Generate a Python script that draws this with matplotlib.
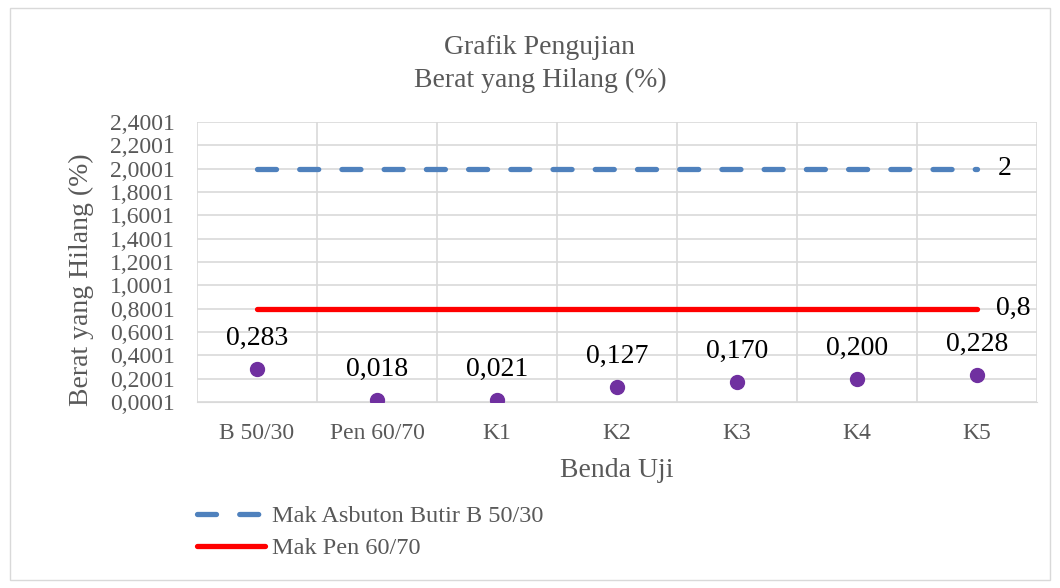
import matplotlib
matplotlib.use('Agg')
import matplotlib.pyplot as plt
from matplotlib.patches import Rectangle

plt.rcParams['font.family'] = ['Liberation Serif', 'DejaVu Serif']

categories = ['B 50/30', 'Pen 60/70', 'K1', 'K2', 'K3', 'K4', 'K5']
berat_hilang = [0.283, 0.018, 0.021, 0.127, 0.170, 0.200, 0.228]
mak_asbuton = [2, 2, 2, 2, 2, 2, 2]
mak_pen = [0.8, 0.8, 0.8, 0.8, 0.8, 0.8, 0.8]
y_ticks = [0.0001 + 0.2 * i for i in range(13)]

grey = '#595959'
grid = '#D9D9D9'

fig = plt.figure(figsize=(10.6, 5.88), dpi=100)
fig.patches.append(Rectangle((10 / 1060, 8 / 588), 1040 / 1060, 572 / 588,
                             transform=fig.transFigure, fill=False,
                             edgecolor=grid, linewidth=1))
ax = fig.add_axes([197 / 1060, 186 / 588, 840 / 1060, 280 / 588])

x = list(range(len(categories)))
ax.plot(x, mak_asbuton, color='#4F81BD', lw=3.8, dashes=(3.6, 4.4),
        dash_capstyle='round', solid_capstyle='round',
        label='Mak Asbuton Butir B 50/30', zorder=3)
ax.plot(x, mak_pen, color='#FF0000', lw=3.8, solid_capstyle='round',
        label='Mak Pen 60/70', zorder=3)
ax.plot(x, berat_hilang, linestyle='none', marker='o', ms=10,
        color='#7030A0', zorder=4)

for xi, v in zip(x, berat_hilang):
    ax.annotate(f'{v:.3f}'.replace('.', ','), (xi, v), xytext=(0, 22),
                textcoords='offset points', ha='center', va='center',
                fontsize=20, color='black')
ax.annotate('2', (x[-1], mak_asbuton[-1]), xytext=(15, 0),
            textcoords='offset points', ha='left', va='center', fontsize=20)
ax.annotate('0,8', (x[-1], mak_pen[-1]), xytext=(14, 0),
            textcoords='offset points', ha='left', va='center', fontsize=20)

ax.set_xlim(-0.5, len(categories) - 0.5)
ax.set_ylim(0.0001, 2.4001)
ax.set_yticks(y_ticks)
ax.set_yticklabels([f'{t:.4f}'.replace('.', ',') for t in y_ticks])
ax.set_xticks(x)
ax.set_xticklabels(categories)
ax.set_xticks([i - 0.5 for i in range(len(categories) + 1)], minor=True)

ax.grid(True, axis='y', which='major', color=grid, lw=1.2)
ax.grid(True, axis='x', which='minor', color=grid, lw=1.2)
ax.grid(False, axis='x', which='major')
ax.tick_params(axis='both', which='both', length=0, labelsize=17,
               labelcolor=grey)
ax.tick_params(axis='y', pad=16)
ax.tick_params(axis='x', pad=15)
for s in ax.spines.values():
    s.set_visible(False)
ax.spines['bottom'].set_visible(True)
ax.spines['bottom'].set_color(grid)

ax.set_xlabel('Benda Uji', fontsize=20, color=grey, labelpad=10)
ax.set_ylabel('Berat yang Hilang (%)', fontsize=20, color=grey)
ax.yaxis.set_label_coords(-0.123, 0.436)

fig.text(540 / 1060, 1 - 48 / 588, 'Grafik Pengujian', ha='center',
         va='center', fontsize=20, color=grey)
fig.text(540 / 1060, 1 - 80 / 588, 'Berat yang Hilang (%)', ha='center',
         va='center', fontsize=20, color=grey)

fig.legend(loc='upper left', bbox_to_anchor=(197 / 1060, 1 - 505 / 588),
           frameon=False, fontsize=17.5, labelcolor=grey, handlelength=2.8,
           handletextpad=0.3, labelspacing=0.42, borderpad=0,
           borderaxespad=0)

plt.savefig('out.png', dpi=100)
